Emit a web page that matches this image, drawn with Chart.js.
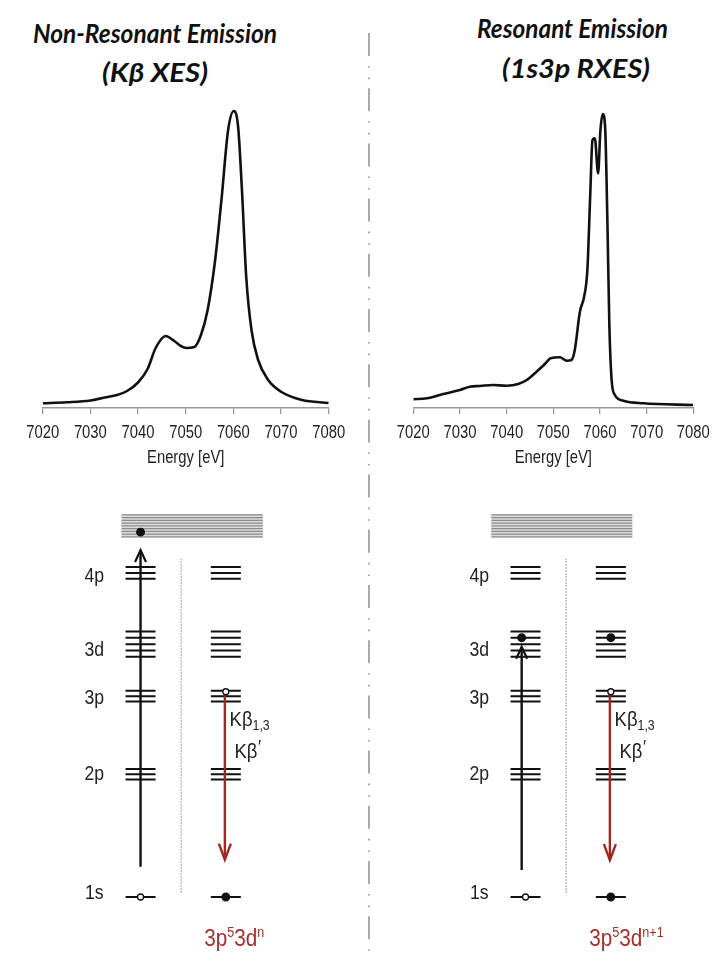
<!DOCTYPE html>
<html><head><meta charset="utf-8">
<script src="https://cdn.jsdelivr.net/npm/chart.js@4.4.1/dist/chart.umd.min.js"></script>
<style>
html,body{margin:0;padding:0;background:#fff;}
#wrap{position:relative;width:717px;height:959px;overflow:hidden;background:#fff;}
canvas{position:absolute;}
.ttl{position:absolute;white-space:nowrap;font-family:Lato,"Open Sans",sans-serif;font-weight:700;font-style:italic;font-size:26px;line-height:26px;color:#111;transform-origin:0 50%;}
</style></head><body>
<div id="wrap">
<svg width="717" height="959" style="position:absolute;left:0;top:0"><line x1="369" y1="33" x2="369" y2="959" stroke="#aaa" stroke-width="2" stroke-dasharray="23 10 1.6 10 1.6 9"/></svg>
<canvas id="specL" width="360" height="390" style="left:0px;top:90px;width:360px;height:390px"></canvas>
<canvas id="specR" width="357" height="390" style="left:360px;top:90px;width:357px;height:390px"></canvas>
<canvas id="diagL" width="332" height="469" style="left:0px;top:490px;width:332px;height:469px"></canvas>
<canvas id="diagR" width="332" height="469" style="left:385px;top:490px;width:332px;height:469px"></canvas>
</div>
<script>
// ---------- DATA ----------
const energyTicks = [7020, 7030, 7040, 7050, 7060, 7070, 7080];
const xesEnergy    = [7020, 7025, 7030, 7033, 7035.6, 7037.7, 7040, 7042, 7043.7, 7045.8, 7047.6, 7049, 7050.1, 7051.8, 7053.2, 7054.6, 7056.1, 7057.5, 7058.9, 7060.1, 7061.0, 7061.8, 7062.7, 7063.8, 7065.2, 7067.3, 7070.1, 7074.4, 7080];
const xesIntensity = [4.7, 5.7, 7.5, 10.5, 13, 17, 25.5, 39, 60, 72, 67, 62, 60, 61, 73, 98, 145, 208, 278, 297, 281, 218, 131, 78, 48, 28, 16, 8, 5];
const rxesEnergy    = [7020, 7022.9, 7026.4, 7030, 7032.1, 7034.3, 7037.1, 7040, 7042.5, 7044.3, 7046.4, 7048.2, 7049.4, 7051.4, 7052.9, 7053.9, 7054.6, 7055.7, 7056.6, 7057.3, 7057.9, 7058.4, 7058.9, 7059.6, 7060.1, 7060.6, 7061.1, 7061.6, 7062.0, 7062.5, 7063.2, 7065, 7069.3, 7080];
const rxesIntensity = [8.7, 9.7, 14, 18, 21.3, 22, 23, 22.3, 24, 28, 36.3, 44, 49.7, 50.7, 47.3, 48, 58, 96.3, 111.3, 138, 211.3, 268, 269.7, 234.7, 278, 294, 281.3, 185, 85, 28, 13, 7.3, 4.7, 3];

const levelNames     = ['1s', '2p', '3p', '3d', '4p'];
const levelEnergy    = [0, 125.7, 205.5, 258.7, 331.6];
const levelSublevels = [1, 3, 3, 5, 3];
const continuumRange = [368.5, 391];
const continuumLines = 9;

// electrons: energy, column (0 = initial, 1 = final), filled
const xesElecE      = [373.3, 0, 210, 0];
const xesElecCol    = [0, 0, 1, 1];
const xesElecFilled = [1, 0, 0, 1];
const rxesElecE      = [265.3, 0, 265.3, 210, 0];
const rxesElecCol    = [0, 0, 1, 1, 1];
const rxesElecFilled = [1, 0, 1, 0, 1];
// transitions [from, to]
const xesExcitation  = [31, 355];
const xesEmission    = [207, 38.3];
const rxesExcitation = [27.7, 256];
const rxesEmission   = [207, 37.7];
const dividerRange   = [4.3, 346];

// ---------- STYLE ----------
const FONT = '"Liberation Sans", Arial, sans-serif';
const RED = '#a3261f';
const RED_TXT = '#a2302c';

function narrowText(ctx, s, x, y, size, sx, color, align) {
  ctx.save();
  ctx.font = size + 'px ' + FONT; ctx.fillStyle = color; ctx.textAlign = align || 'center'; ctx.textBaseline = 'middle';
  ctx.translate(x, y); ctx.scale(sx, 1); ctx.fillText(s, 0, 0);
  ctx.restore();
}

const axisLabels = {
  id: 'axisLabels',
  afterDraw(chart) {
    const {ctx, scales: {x}, chartArea} = chart;
    const base = chartArea.bottom;
    energyTicks.forEach(v => narrowText(ctx, String(v), x.getPixelForValue(v), base + 24.5, 19, 0.78, '#222'));
    narrowText(ctx, 'Energy [eV]', (chartArea.left + chartArea.right) / 2, base + 50, 18.5, 0.8, '#222');
  }
};

function spectrum(id, E, I, padL, padR) {
  new Chart(document.getElementById(id), {
    type: 'line',
    data: {datasets: [{data: E.map((e, i) => ({x: e, y: I[i]})), borderColor: '#111', borderWidth: 2.6,
      pointRadius: 0, cubicInterpolationMode: 'monotone', fill: false}]},
    options: {
      responsive: false, animation: false, events: [],
      layout: {padding: {left: padL, right: padR, top: 18, bottom: 0}},
      plugins: {legend: {display: false}, tooltip: {enabled: false}},
      scales: {
        x: {type: 'linear', min: 7020, max: 7080,
          afterBuildTicks: s => { s.ticks = energyTicks.map(v => ({value: v})); },
          afterFit: s => { s.height = 72; },
          ticks: {display: false},
          grid: {display: true, drawOnChartArea: false, drawTicks: true, tickLength: 6, color: '#999', lineWidth: 1.3},
          border: {display: true, color: '#999', width: 1.5}
        },
        y: {display: false, min: 0, max: 300}
      }
    },
    plugins: [axisLabels]
  });
}
spectrum('specL', xesEnergy, xesIntensity, 42.7, 31.3);
spectrum('specR', rxesEnergy, rxesIntensity, 53.3, 23.7);

// ---------- titles ----------
const wrap = document.getElementById('wrap');
function placeTitle(text, x0, x1, cy) {
  const el = document.createElement('div');
  el.className = 'ttl'; el.textContent = text; wrap.appendChild(el);
  const w = el.getBoundingClientRect().width;
  el.style.left = x0 + 'px'; el.style.top = (cy - 13) + 'px';
  el.style.transform = 'scaleX(' + ((x1 - x0) / w) + ')';
}
placeTitle('Non-Resonant Emission', 33, 277, 33);
placeTitle('(Kβ XES)', 102, 208, 72);
placeTitle('Resonant Emission', 477, 668, 28);
placeTitle('(1s3p RXES)', 502, 650, 68);

// ---------- diagrams ----------
const colCenter = [139.7, 227.8];
const halfW = 15.5;
const subGap = [0, 5.35, 5.5, 6.5, 6];
const labelDy = [-4, 0.5, 2.5, 6.5, 3.3];

function runs(ctx, parts, x, y, color, sx) {
  ctx.save();
  ctx.fillStyle = color; ctx.textBaseline = 'middle'; ctx.textAlign = 'left';
  let cx = x;
  for (const p of parts) {
    ctx.font = p.size + 'px ' + FONT;
    const w = ctx.measureText(p.t).width * sx;
    ctx.save(); ctx.translate(cx, y + (p.dy || 0)); ctx.scale(sx, 1); ctx.fillText(p.t, 0, 0); ctx.restore();
    cx += w + (p.gap || 0);
  }
  ctx.restore();
}
function head(ctx, x, y, dir, w, h, color, lw) {
  ctx.save(); ctx.strokeStyle = color; ctx.lineWidth = lw; ctx.lineJoin = 'miter'; ctx.lineCap = 'butt';
  ctx.beginPath(); ctx.moveTo(x - w / 2, y - dir * h); ctx.lineTo(x, y); ctx.lineTo(x + w / 2, y - dir * h); ctx.stroke();
  ctx.restore();
}

function diagram(id, band, elE, elCol, elFill, excit, emis, excitX, configParts) {
  const levels = [];
  levelEnergy.forEach((e, li) => {
    const n = levelSublevels[li];
    for (let c = 0; c < 2; c++) for (let k = 0; k < n; k++) {
      const y = e + (k - (n - 1) / 2) * subGap[li];
      levels.push({x: colCenter[c] - halfW, y}, {x: colCenter[c] + halfW, y}, {x: colCenter[c] + halfW, y: null});
    }
  });
  const bandPts = [];
  for (let k = 0; k < continuumLines; k++) {
    const y = continuumRange[0] + k * (continuumRange[1] - continuumRange[0]) / (continuumLines - 1);
    bandPts.push({x: band[0], y}, {x: band[1], y}, {x: band[1], y: null});
  }
  const elec = elE.map((e, i) => ({x: colCenter[elCol[i]] + (elCol[i] === 0 ? excitX : 0) * (e > 0 ? 1 : 0), y: e}));
  const decor = {
    id: 'decor',
    beforeDatasetsDraw(chart) {
      const {ctx, scales: {x, y}} = chart;
      ctx.save(); ctx.fillStyle = '#dcdcdc';
      const yt = y.getPixelForValue(continuumRange[1] + 0.8), yb = y.getPixelForValue(continuumRange[0] - 0.8);
      ctx.fillRect(x.getPixelForValue(band[0]), yt, x.getPixelForValue(band[1]) - x.getPixelForValue(band[0]), yb - yt);
      ctx.restore();
    },
    afterDatasetsDraw(chart) {
      const {ctx, scales: {x, y}} = chart;
      head(ctx, x.getPixelForValue(colCenter[0] + excitX), y.getPixelForValue(excit[1]), -1, 11, 12, '#111', 2.2);
      head(ctx, x.getPixelForValue(colCenter[1] - 1), y.getPixelForValue(emis[1]), 1, 12, 16, RED, 2.4);
      levelNames.forEach((nm, li) => {
        narrowText(ctx, nm, x.getPixelForValue(92), y.getPixelForValue(levelEnergy[li] - labelDy[li]), 20.5, 0.86, '#222');
      });
      runs(ctx, [{t: 'Kβ', size: 21}, {t: '1,3', size: 14, dy: 6}], x.getPixelForValue(231.7), y.getPixelForValue(181), '#222', 0.88);
      runs(ctx, [{t: 'Kβ', size: 21, gap: 0.5}, {t: '′', size: 19, dy: -5}], x.getPixelForValue(236.7), y.getPixelForValue(148), '#222', 0.88);
      runs(ctx, configParts, x.getPixelForValue(205.5), y.getPixelForValue(-44), RED_TXT, 0.9);
    }
  };
  new Chart(document.getElementById(id), {
    type: 'scatter',
    data: {datasets: [
      {data: elec, showLine: false, pointRadius: elFill.map(f => f ? 3.8 : 3), pointBackgroundColor: elFill.map(f => f ? '#111' : '#fff'),
        pointBorderColor: '#111', pointBorderWidth: 1.3, order: 0},
      {data: [{x: colCenter[0] + excitX, y: excit[0]}, {x: colCenter[0] + excitX, y: excit[1]}], showLine: true, borderColor: '#111', borderWidth: 2.4, pointRadius: 0, order: 1},
      {data: [{x: colCenter[1] - 1, y: emis[0]}, {x: colCenter[1] - 1, y: emis[1]}], showLine: true, borderColor: RED, borderWidth: 2.4, pointRadius: 0, order: 1},
      {data: levels, showLine: true, spanGaps: false, borderColor: '#111', borderWidth: 2, pointRadius: 0, order: 2},
      {data: [{x: 181.7, y: dividerRange[0]}, {x: 181.7, y: dividerRange[1]}], showLine: true, borderColor: '#999', borderWidth: 1.3, borderDash: [1.5, 1.5], pointRadius: 0, order: 3},
      {data: bandPts, showLine: true, spanGaps: false, borderColor: '#8c8c8c', borderWidth: 1.2, pointRadius: 0, order: 4}
    ]},
    options: {
      responsive: false, animation: false, events: [],
      layout: {padding: 0},
      plugins: {legend: {display: false}, tooltip: {enabled: false}},
      scales: {x: {type: 'linear', min: 0, max: 332, display: false}, y: {type: 'linear', min: -58, max: 411, display: false}}
    },
    plugins: [decor]
  });
}
diagram('diagL', [120, 266], xesElecE, xesElecCol, xesElecFilled, xesExcitation, xesEmission, 0,
  [{t: '3p', size: 23}, {t: '5', size: 14, dy: -7}, {t: '3d', size: 23}, {t: 'n', size: 14, dy: -7}]);
diagram('diagR', [104.3, 250], rxesElecE, rxesElecCol, rxesElecFilled, rxesExcitation, rxesEmission, -4,
  [{t: '3p', size: 23}, {t: '5', size: 14, dy: -7}, {t: '3d', size: 23}, {t: 'n+1', size: 14, dy: -7}]);
</script>
</body></html>
